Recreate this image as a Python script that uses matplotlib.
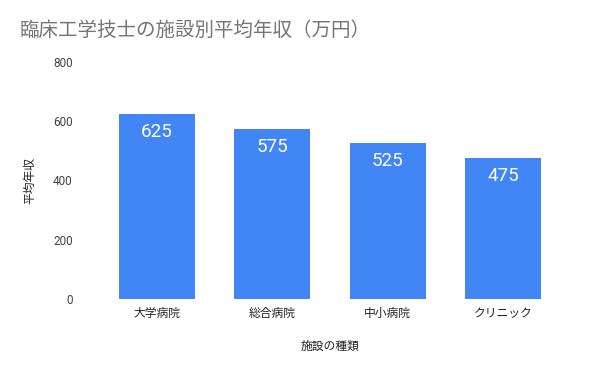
import matplotlib
matplotlib.use('Agg')
import matplotlib.pyplot as plt

plt.rcParams['font.family'] = ['Roboto', 'Noto Sans CJK JP', 'DejaVu Sans']

# データ
categories = ['大学病院', '総合病院', '中小病院', 'クリニック']
values = [625, 575, 525, 475]
yticks = [0, 200, 400, 600, 800]

fig = plt.figure(figsize=(6, 3.71), dpi=100)
ax = fig.add_axes([99 / 600, 1 - 299 / 371, 462 / 600, 237 / 371])

bars = ax.bar(range(len(categories)), values, width=0.655, color='#4285F4')
for b, v in zip(bars, values):
    ax.text(b.get_x() + b.get_width() / 2, v - 30, str(v), ha='center', va='top',
            color='white', fontsize=13.5)

ax.set_xlim(-0.5, len(categories) - 0.5)
ax.set_ylim(0, 800)
ax.set_yticks(yticks)
ax.set_yticklabels([str(t) for t in yticks], color='#444444', fontsize=8.5)
ax.set_xticks(range(len(categories)))
ax.set_xticklabels(categories, color='#222222', fontsize=8.5)
ax.tick_params(length=0)
ax.tick_params(axis='y', pad=19)
ax.tick_params(axis='x', pad=6)
for s in ax.spines.values():
    s.set_visible(False)

ax.set_xlabel('施設の種類', fontsize=8.5, color='#222222', labelpad=14)
ax.set_ylabel('平均年収', fontsize=8.5, color='#222222', labelpad=12)

fig.text(20 / 600, 1 - 31 / 371, '臨床工学技士の施設別平均年収（万円）', fontsize=14,
         color='#757575', va='center', ha='left')

fig.savefig('out.png', dpi=100, facecolor='white')
